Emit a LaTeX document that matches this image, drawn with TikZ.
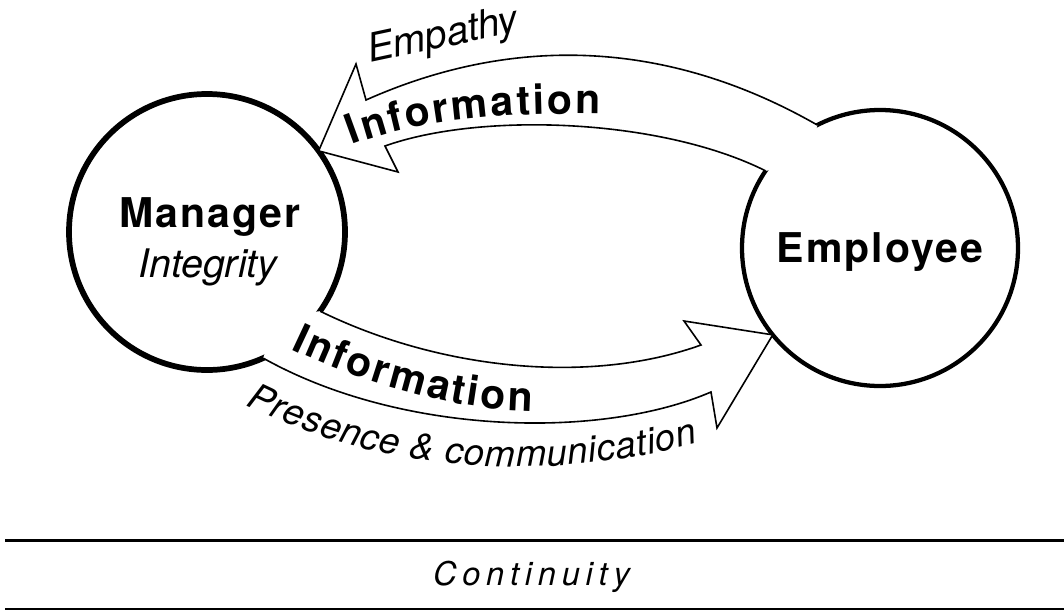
\documentclass[tikz,border=0pt]{standalone}
\usepackage{fontspec}
\setmainfont{TeX Gyre Heros}
\newfontfamily\trackfont[LetterSpace=5]{TeX Gyre Heros}
\newcommand\bflab{\trackfont\bfseries\fontsize{30.75}{36}\selectfont}
\newcommand\bfcurve{\bfseries\fontsize{30.75}{36}\selectfont}
\newcommand\itlab{\itshape\fontsize{29.5}{34}\selectfont}
\newcommand\itcurve{\itshape\fontsize{27.5}{32}\selectfont}
\newcommand\contfont{\itshape\fontsize{24.5}{29}\selectfont}
\usetikzlibrary{decorations.text,calc}
\tikzset{
  person/.style={circle, draw, inner sep=0pt, outer sep=0pt, minimum size=207pt},
  bandline/.style={draw=black, line width=1.2pt, line join=miter, miter limit=20},
  bandfill/.style={fill=white, draw=none},
  rule/.style={draw=black, line cap=butt},
  contletter/.style={anchor=base west, inner sep=0pt, outer sep=0pt, font=\contfont},
}
\begin{document}
\begin{tikzpicture}[x=0.75pt, y=-0.75pt]
\useasboundingbox (0,0) rectangle (1064,611);

% circles
\node[person, line width=4.3pt] (mgr) at (207,232) {};
\node[person, line width=3.2pt] (emp) at (880,248) {};

% upper band: employee -> manager
\def\upperband{(emp.117) .. controls (660,35) and (505,38) .. (366,100)
  -- (356,64) -- (mgr.36) -- (398,172) -- (385,146)
  .. controls (480,112) and (660,118) .. (emp.146)}
\fill[bandfill] \upperband -- ($(emp.center)!0.8!(emp.131)$) -- cycle;
\draw[bandline] \upperband;

% lower band: manager -> employee
\def\lowerband{(mgr.-35.5) .. controls (440,370) and (590,385) .. (701,345)
  -- (684,321) -- (emp.-141) -- (717,428) -- (711,392)
  .. controls (600,440) and (400,435) .. (mgr.-66)}
\fill[bandfill] \lowerband -- ($(mgr.center)!0.8!(mgr.-50)$) -- cycle;
\draw[bandline] \lowerband;

% labels in circles
\node[anchor=base, font=\bflab] (mgrname) at (210,227) {Manager};
\node[anchor=base, font=\itlab] (mgrvalue) at (208,277) {Integrity};
\node[anchor=base, font=\bflab] (empname) at (880,262) {Employee};

% labels on bands
\node[anchor=base, rotate=12, font=\itlab] (empathy) at (445,47) {Empathy};
\path[decorate, decoration={text along path, text align=fit to path,
  text={|\bfcurve|Information}}]
  (352,145) .. controls (430,115) and (530,113) .. (600,114);
\path[decorate, decoration={text along path, text align=fit to path,
  text={|\bfcurve|Information}}]
  (291,349) .. controls (360,382) and (450,410) .. (532,411);
\path[decorate, decoration={text along path, text align=fit to path,
  text={|\itcurve|Presence {\&} communication}}]
  (246,405) .. controls (386,475) and (550,482) .. (698,443);

% rules and bottom label (letter-spaced)
\coordinate (r1a) at (5,540); \coordinate (r1b) at (1064,540);
\coordinate (r2a) at (5,609); \coordinate (r2b) at (1064,609);
\draw[rule, line width=2.25pt] (r1a) -- (r1b);
\draw[rule, line width=1.5pt] (r2a) -- (r2b);
\foreach \ch/\xx [count=\i] in {C/433, o/462.3, n/486.2, t/510.1, i/524.9,
    n/537.9, u/561.8, i/585.7, t/598.7, y/613.5}
  \node[contletter] (cont\i) at (\xx,585) {\ch};
\end{tikzpicture}
\end{document}
